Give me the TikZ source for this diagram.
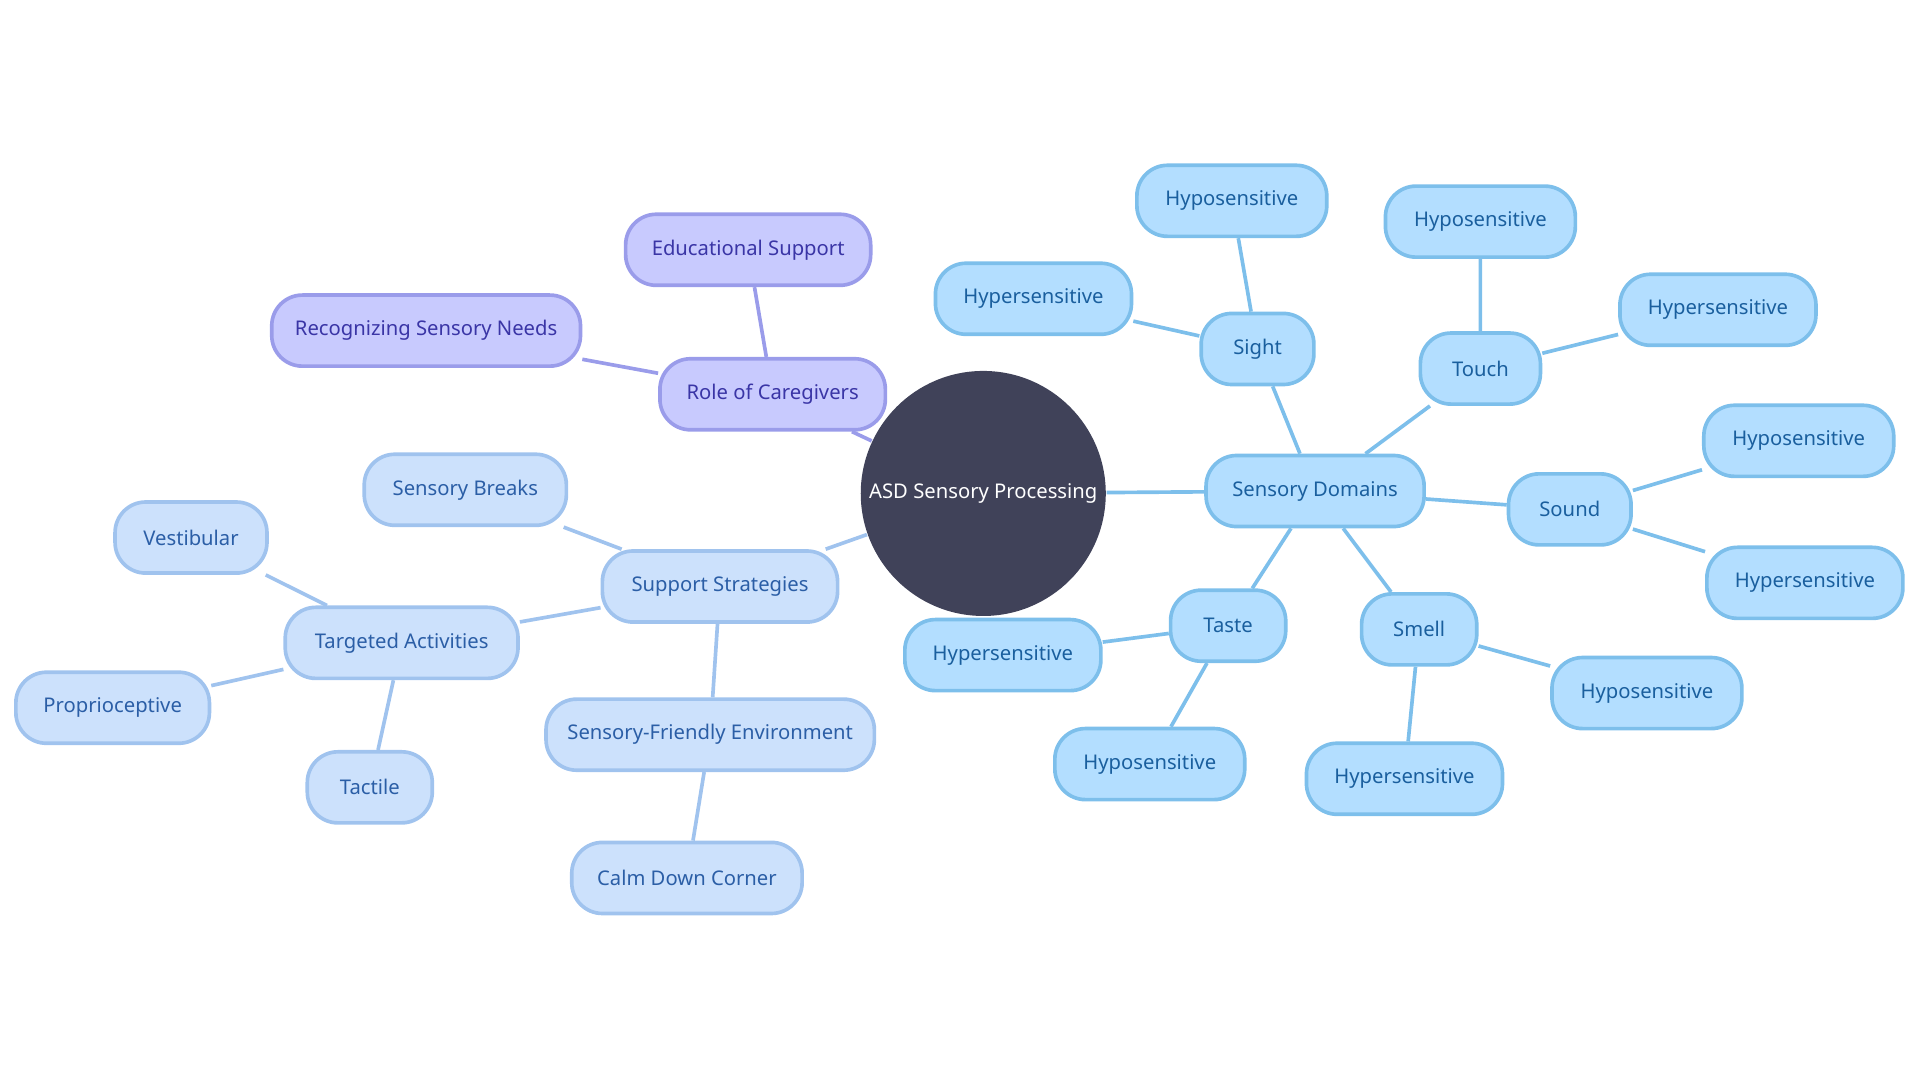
\documentclass[tikz,border=0pt]{standalone}
\usepackage{fontspec}
\setmainfont{Noto Sans}
\definecolor{bF}{HTML}{B3DEFF}\definecolor{bD}{HTML}{7DBFEB}\definecolor{bT}{HTML}{1A5F9E}
\definecolor{lF}{HTML}{CCE1FC}\definecolor{lD}{HTML}{A0C3EE}\definecolor{lT}{HTML}{2B5EA6}
\definecolor{pF}{HTML}{C8CAFE}\definecolor{pD}{HTML}{9A9CEA}\definecolor{pT}{HTML}{3A35A6}
\definecolor{cF}{HTML}{404259}
\begin{document}
\begin{tikzpicture}[x=0.01cm,y=-0.01cm,
 box/.style={rounded corners=0.25cm,line width=0.85pt,minimum height=0.58cm,inner sep=0pt,font=\fontsize{4.7pt}{5pt}\selectfont},
 bb/.style={box,fill=bF,draw=bD,text=bT},
 lb/.style={box,fill=lF,draw=lD,text=lT},
 pb/.style={box,fill=pF,draw=pD,text=pT},
 be/.style={draw=bD,line width=0.85pt},
 le/.style={draw=lD,line width=0.85pt},
 pe/.style={draw=pD,line width=0.85pt}]
\useasboundingbox (0,0) rectangle (1568,882);
\node[circle,fill=cF,minimum size=2cm,text=white,inner sep=0pt,font=\fontsize{4.7pt}{5pt}\selectfont] (c) at (803,403) {ASD Sensory Processing};
\node[bb,minimum width=1.78cm] (sd) at (1074,401) {Sensory Domains};
\node[bb,minimum width=0.92cm] (si) at (1027,285) {Sight};
\node[bb,minimum width=1.55cm] (si1) at (1006,164) {Hyposensitive};
\node[bb,minimum width=1.60cm] (si2) at (844,244) {Hypersensitive};
\node[bb,minimum width=0.98cm] (to) at (1209,301) {Touch};
\node[bb,minimum width=1.55cm] (to1) at (1209,181) {Hyposensitive};
\node[bb,minimum width=1.60cm] (to2) at (1403,253) {Hypersensitive};
\node[bb,minimum width=1.00cm] (so) at (1282,416) {Sound};
\node[bb,minimum width=1.55cm] (so1) at (1469,360) {Hyposensitive};
\node[bb,minimum width=1.60cm] (so2) at (1474,476) {Hypersensitive};
\node[bb,minimum width=0.94cm] (sm) at (1159,514) {Smell};
\node[bb,minimum width=1.55cm] (sm1) at (1345,566) {Hyposensitive};
\node[bb,minimum width=1.60cm] (sm2) at (1147,636) {Hypersensitive};
\node[bb,minimum width=0.94cm] (ta) at (1003,511) {Taste};
\node[bb,minimum width=1.60cm] (ta1) at (819,535) {Hypersensitive};
\node[bb,minimum width=1.55cm] (ta2) at (939,624) {Hyposensitive};
\node[pb,minimum width=1.84cm] (rc) at (631,322) {Role of Caregivers};
\node[pb,minimum width=2.00cm] (es) at (611,204) {Educational Support};
\node[pb,minimum width=2.52cm] (rs) at (348,270) {Recognizing Sensory Needs};
\node[lb,minimum width=1.92cm] (ss) at (588,479) {Support Strategies};
\node[lb,minimum width=1.65cm] (sb) at (380,400) {Sensory Breaks};
\node[lb,minimum width=1.90cm] (tg) at (328,525) {Targeted Activities};
\node[lb,minimum width=1.24cm] (ve) at (156,439) {Vestibular};
\node[lb,minimum width=1.58cm] (pr) at (92,578) {Proprioceptive};
\node[lb,minimum width=1.02cm] (tc) at (302,643) {Tactile};
\node[lb,minimum width=2.68cm] (sf) at (580,600) {Sensory-Friendly Environment};
\node[lb,minimum width=1.88cm] (cd) at (561,717) {Calm Down Corner};
\path[be] (c)--(sd) (sd)--(si) (si)--(si1) (si)--(si2) (sd)--(to) (to)--(to1) (to)--(to2)
 (sd)--(so) (so)--(so1) (so)--(so2) (sd)--(sm) (sm)--(sm1) (sm)--(sm2) (sd)--(ta) (ta)--(ta1) (ta)--(ta2);
\path[pe] (c)--(rc) (rc)--(es) (rc)--(rs);
\path[le] (c)--(ss) (ss)--(sb) (ss)--(tg) (tg)--(ve) (tg)--(pr) (tg)--(tc) (ss)--(sf) (sf)--(cd);
\end{tikzpicture}
\end{document}
